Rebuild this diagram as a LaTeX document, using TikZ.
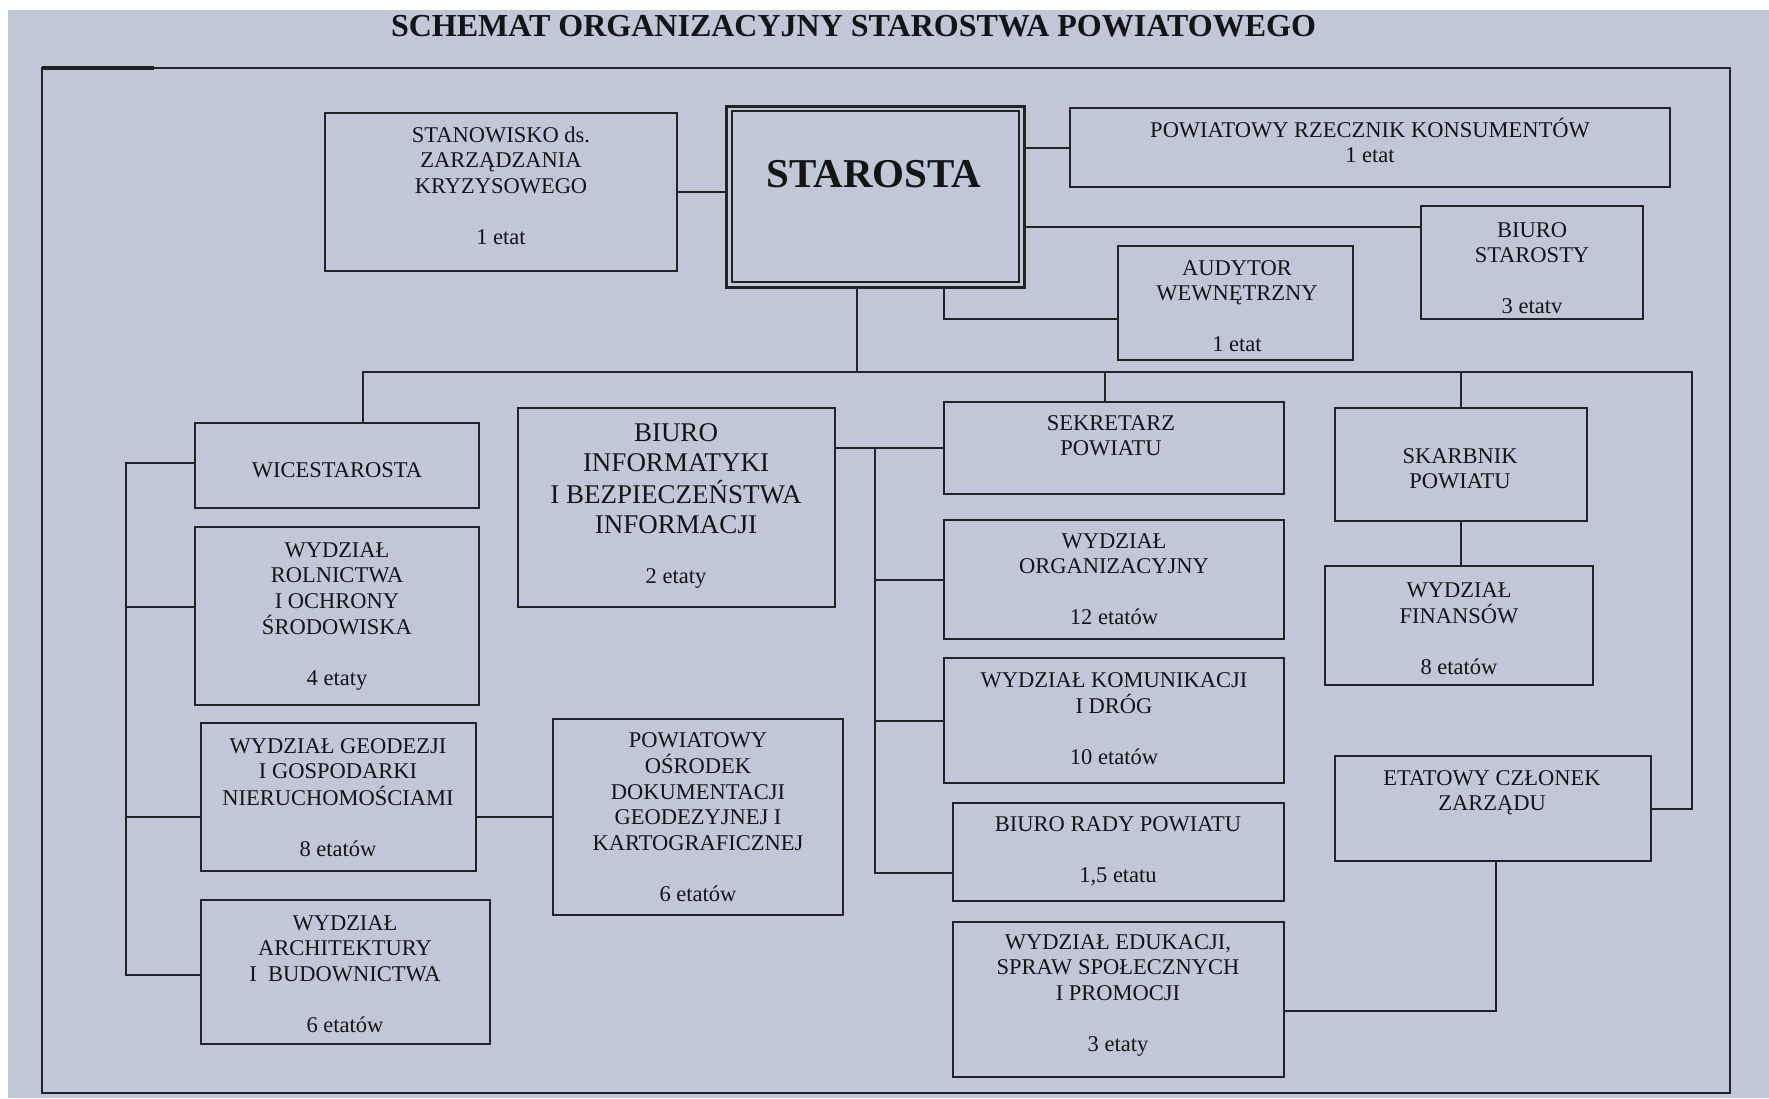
\documentclass[tikz,border=0pt]{standalone}
\usepackage{fontspec}
\setmainfont{Liberation Serif}
\usetikzlibrary{calc}
\definecolor{bgc}{RGB}{193,199,215}
\definecolor{linec}{RGB}{35,35,38}
\definecolor{textc}{RGB}{20,20,22}
\newcommand\orgbox[6][]{\node[box,#1,minimum width={(#5)-(#3)},minimum height={(#6)-(#4)}] (#2) at ({((#3)+(#5))/2},{((#4)+(#6))/2}) {};}
\newcommand\orgtext[5][]{\node[txt,#1] (#2) at (#3,#4) {\begin{tabular}[t]{@{}c@{}}#5\end{tabular}};}
\begin{document}
\begin{tikzpicture}[x=1pt,y=-1pt,
  box/.style={draw=linec,line width=2.2pt,rectangle,inner sep=0pt,outer sep=0pt},
  txt/.style={anchor=base,inner sep=0pt,outer sep=0pt,text=textc,font=\fontsize{22.5}{25.5}\selectfont},
  conn/.style={draw=linec,line width=2pt}]
\useasboundingbox (0,0) rectangle (1769,1098);
\fill[white] (0,0) rectangle (1769,1098);
\fill[bgc] (8,9.5) rectangle (1769,1098);
\draw[linec,line width=2pt] (42,68) rectangle (1730,1093);
\draw[linec,line width=4pt] (42,68) -- (154,68);
% title
\node[anchor=base,inner sep=0pt,text=textc,font=\fontsize{32}{36}\selectfont\bfseries] (title) at (853.5,36) {SCHEMAT ORGANIZACYJNY STAROSTWA POWIATOWEGO};
% boxes
\orgbox{stanow}{325}{113}{677}{271}
\orgbox[line width=3pt]{starosta}{726}{106}{1024}{287}
\orgbox[line width=1.6pt]{starin}{732}{111}{1019}{282}
\orgbox{rzecz}{1070}{108}{1670}{187}
\orgbox{bstar}{1421}{206}{1643}{319}
\orgbox{audyt}{1118}{246}{1353}{360}
\orgbox{wice}{195}{423}{479}{508}
\orgbox{roln}{195}{527}{479}{705}
\orgbox{binf}{518}{408}{835}{607}
\orgbox{sekr}{944}{402}{1284}{494}
\orgbox{skarb}{1335}{408}{1587}{521}
\orgbox{org}{944}{520}{1284}{639}
\orgbox{fin}{1325}{566}{1593}{685}
\orgbox{kom}{944}{658}{1284}{783}
\orgbox{etat}{1335}{756}{1651}{861}
\orgbox{rady}{953}{803}{1284}{901}
\orgbox{eduk}{953}{922}{1284}{1077}
\orgbox{geod}{201}{723}{476}{871}
\orgbox{osrod}{553}{719}{843}{915}
\orgbox{arch}{201}{900}{490}{1044}
% helper coordinates
\coordinate (busL) at (363,372);
\coordinate (busR) at (1692,372);
\coordinate (lbx) at (126,463);
\coordinate (mbx) at (875,448);
\coordinate (bstarW) at ([yshift=-21pt]bstar.north west);
\coordinate (stS1) at ([xshift=69pt]starosta.south);
\coordinate (audW) at ([yshift=-16pt]audyt.west);
\coordinate (stS2) at ([xshift=-18pt]starosta.south);
\coordinate (sekrN) at ([xshift=-9pt]sekr.north);
\coordinate (wiceW) at ([yshift=2.5pt]wice.west);
\coordinate (rolnW) at ([yshift=9pt]roln.west);
\coordinate (geodW) at ([yshift=-20pt]geod.west);
\coordinate (geodE) at ([yshift=-20pt]geod.east);
\coordinate (archW) at ([yshift=-3pt]arch.west);
\coordinate (radyW) at ([yshift=-21pt]rady.west);
\coordinate (edukE) at ([yshift=-11pt]eduk.east);
\coordinate (etatS) at ([xshift=3pt]etat.south);
% connectors
\draw[conn] (stanow.east) -- (stanow.east -| starosta.west);
\draw[conn] (rzecz.west) -- (rzecz.west -| starosta.east);
\draw[conn] (bstarW) -- (bstarW -| starosta.east);
\draw[conn] (stS1) |- (audW);
\draw[conn] (stS2) -- (stS2 |- busL);
\draw[conn] (busL |- wice.north) -- (busL) -- (busR) |- (etat.east);
\draw[conn] (sekrN) -- (sekrN |- busL);
\draw[conn] (skarb.north) -- (skarb.north |- busL);
\draw[conn] (skarb.south) -- (skarb.south |- fin.north);
\draw[conn] (wiceW) -| (archW -| lbx) -- (archW);
\draw[conn] (rolnW) -- (rolnW -| lbx);
\draw[conn] (geodW) -- (geodW -| lbx);
\draw[conn] (geodE) -- (geodE -| osrod.west);
\draw[conn] (binf.east |- sekr.west) -- (sekr.west);
\draw[conn] (mbx |- sekr.west) -- (mbx |- radyW) -- (radyW);
\draw[conn] (org.west -| mbx) -- (org.west);
\draw[conn] (kom.west -| mbx) -- (kom.west);
\draw[conn] (edukE) -| (etatS);
% texts
\orgtext{stanow-t}{501}{142}{STANOWISKO ds.\\ZARZĄDZANIA\\KRYZYSOWEGO\\ \\1 etat}
\node[txt,font=\fontsize{41}{45}\selectfont\bfseries] (starosta-t) at (874,187) {STAROSTA};
\orgtext{rzecz-t}{1370}{137}{POWIATOWY RZECZNIK KONSUMENTÓW\\1 etat}
\orgtext{bstar-t}{1532}{237}{BIURO\\STAROSTY\\ \\3 etatv}
\orgtext{audyt-t}{1237}{275}{AUDYTOR\\WEWNĘTRZNY\\ \\1 etat}
\orgtext{wice-t}{337}{477}{WICESTAROSTA}
\orgtext{roln-t}{337}{557}{WYDZIAŁ\\ROLNICTWA\\I OCHRONY\\ŚRODOWISKA\\ \\4 etaty}
\orgtext[font=\fontsize{27}{30.3}\selectfont]{binf-t}{676}{441}{BIURO\\INFORMATYKI\\I BEZPIECZEŃSTWA\\INFORMACJI}
\orgtext{binf-e}{676}{583}{2 etaty}
\orgtext{sekr-t}{1111}{430}{SEKRETARZ\\POWIATU}
\orgtext{skarb-t}{1460}{463}{SKARBNIK\\POWIATU}
\orgtext{org-t}{1114}{548}{WYDZIAŁ\\ORGANIZACYJNY\\ \\12 etatów}
\orgtext{fin-t}{1459}{597}{WYDZIAŁ\\FINANSÓW\\ \\8 etatów}
\orgtext{kom-t}{1114}{687}{WYDZIAŁ KOMUNIKACJI\\I DRÓG\\ \\10 etatów}
\orgtext{etat-t}{1492}{785}{ETATOWY CZŁONEK\\ZARZĄDU}
\orgtext{rady-t}{1118}{831}{BIURO RADY POWIATU\\ \\1,5 etatu}
\orgtext{eduk-t}{1118}{949}{WYDZIAŁ EDUKACJI,\\SPRAW SPOŁECZNYCH\\I PROMOCJI\\ \\3 etaty}
\orgtext{geod-t}{338}{753}{WYDZIAŁ GEODEZJI\\I GOSPODARKI\\NIERUCHOMOŚCIAMI\\ \\8 etatów}
\orgtext{osrod-t}{698}{747}{POWIATOWY\\OŚRODEK\\DOKUMENTACJI\\GEODEZYJNEJ I\\KARTOGRAFICZNEJ\\ \\6 etatów}
\orgtext{arch-t}{345}{930}{WYDZIAŁ\\ARCHITEKTURY\\I\ \ BUDOWNICTWA\\ \\6 etatów}
\end{tikzpicture}
\end{document}
